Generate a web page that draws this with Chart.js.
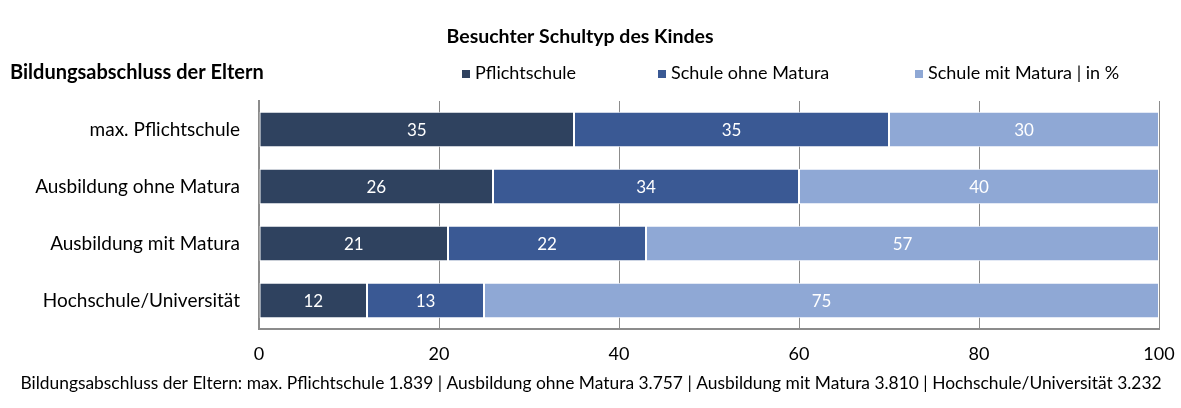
<!DOCTYPE html>
<html>
<head>
<meta charset="utf-8">
<script src="https://cdn.jsdelivr.net/npm/chart.js@4.4.1/dist/chart.umd.min.js"></script>
<style>
  html, body { margin: 0; padding: 0; background: #fff; }
  #wrap { position: relative; width: 1181px; height: 408px; }
</style>
</head>
<body>
<div id="wrap"><canvas id="canvas" width="1181" height="408"></canvas></div>
<script>
// Daten
var kategorien = ['max. Pflichtschule', 'Ausbildung ohne Matura', 'Ausbildung mit Matura', 'Hochschule/Universität'];
var pflichtschule = [35, 26, 21, 12];
var ohneMatura = [35, 34, 22, 13];
var mitMatura = [30, 40, 57, 75];
var serienNamen = ['Pflichtschule', 'Schule ohne Matura', 'Schule mit Matura | in %'];
var xTicks = [0, 20, 40, 60, 80, 100];
var titel = 'Besuchter Schultyp des Kindes';
var achsenTitel = 'Bildungsabschluss der Eltern';
var fussnote = 'Bildungsabschluss der Eltern: max. Pflichtschule 1.839 | Ausbildung ohne Matura 3.757 | Ausbildung mit Matura 3.810 | Hochschule/Universität 3.232';

var FONT = 'Lato, "Open Sans", sans-serif';
var farben = ['#2f425f', '#3a5994', '#8fa8d5'];
var legendeX = [462, 658, 915];

// Zahlen in die Balken schreiben
var wertePlugin = {
  id: 'werte',
  afterDatasetsDraw: function(chart) {
    var ctx = chart.ctx;
    ctx.save();
    ctx.fillStyle = '#ffffff';
    ctx.font = '17px ' + FONT;
    ctx.textAlign = 'center';
    ctx.textBaseline = 'middle';
    chart.data.datasets.forEach(function(ds, i) {
      var meta = chart.getDatasetMeta(i);
      meta.data.forEach(function(bar, j) {
        var x = (bar.x + bar.base) / 2;
        ctx.fillText(ds.data[j], x, bar.y + 1);
      });
    });
    ctx.restore();
  }
};

// Titel, Legende, Überschrift links und Fußnote
var textePlugin = {
  id: 'texte',
  afterDraw: function(chart) {
    var ctx = chart.ctx;
    ctx.save();
    ctx.fillStyle = '#000';
    ctx.textBaseline = 'middle';
    ctx.font = 'bold 19.5px ' + FONT;
    ctx.textAlign = 'center';
    ctx.fillText(titel, 580, 37);
    ctx.textAlign = 'left';
    ctx.font = 'bold 20px ' + FONT;
    ctx.fillText(achsenTitel, 10, 73);
    ctx.font = '18px ' + FONT;
    chart.data.datasets.forEach(function(ds, i) {
      ctx.fillStyle = ds.backgroundColor;
      ctx.fillRect(legendeX[i], 70, 8, 8);
      ctx.fillStyle = '#000';
      ctx.fillText(ds.label, legendeX[i] + 13, 73);
    });
    ctx.font = '17.4px ' + FONT;
    ctx.textAlign = 'center';
    ctx.fillText(fussnote, 591, 383);
    ctx.restore();
  }
};

var ctx = document.getElementById('canvas').getContext('2d');
var chart = new Chart(ctx, {
  type: 'bar',
  data: {
    labels: kategorien,
    datasets: [
      { label: serienNamen[0], data: pflichtschule, backgroundColor: farben[0] },
      { label: serienNamen[1], data: ohneMatura, backgroundColor: farben[1] },
      { label: serienNamen[2], data: mitMatura, backgroundColor: farben[2] }
    ].map(function(d) {
      d.borderColor = '#ffffff';
      d.borderWidth = 1;
      d.borderSkipped = false;
      d.categoryPercentage = 1;
      d.barPercentage = 0.62;
      return d;
    })
  },
  options: {
    responsive: false,
    animation: false,
    indexAxis: 'y',
    layout: { padding: { left: 0, right: 22, top: 101, bottom: 0 } },
    plugins: {
      title: { display: false },
      legend: { display: false },
      tooltip: { enabled: false }
    },
    scales: {
      x: {
        stacked: true,
        min: 0,
        max: 100,
        afterBuildTicks: function(scale) {
          scale.ticks = xTicks.map(function(v) { return { value: v }; });
        },
        afterFit: function(scale) {
          scale.height = 79;
          scale.paddingLeft = 0;
          scale.paddingRight = 0;
        },
        grid: { color: '#8c8c8c', lineWidth: 1, drawTicks: false },
        border: { color: '#8c8c8c', width: 2 },
        ticks: { color: '#000', font: { family: FONT, size: 18 }, padding: 14 }
      },
      y: {
        stacked: true,
        afterFit: function(scale) { scale.width = 259; },
        grid: { display: false, drawTicks: false },
        border: { color: '#8c8c8c', width: 2 },
        ticks: { color: '#000', font: { family: FONT, size: 19 }, padding: 19 }
      }
    }
  },
  plugins: [wertePlugin, textePlugin]
});
</script>
</body>
</html>
